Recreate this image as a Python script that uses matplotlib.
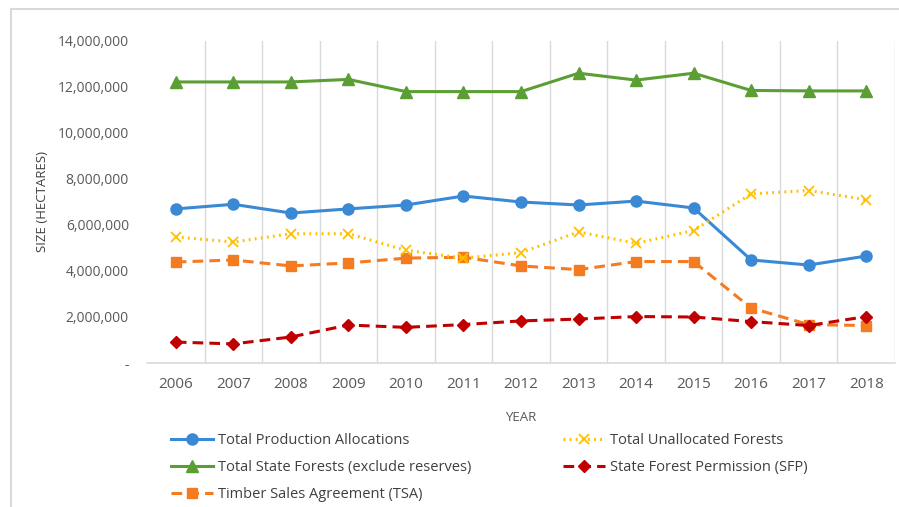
import matplotlib
matplotlib.use("Agg")
import matplotlib.pyplot as plt
from matplotlib.lines import Line2D
from matplotlib.ticker import FuncFormatter

plt.rcParams['font.family'] = ['Open Sans', 'DejaVu Sans']

years = ['2006', '2007', '2008', '2009', '2010', '2011', '2012',
         '2013', '2014', '2015', '2016', '2017', '2018']

production = [6.70, 6.90, 6.52, 6.70, 6.87, 7.26, 7.00, 6.87, 7.04, 6.74, 4.48, 4.26, 4.65]
state_forests = [12.22, 12.22, 12.22, 12.33, 11.80, 11.80, 11.80, 12.60, 12.30, 12.60, 11.85, 11.83, 11.83]
tsa = [4.39, 4.48, 4.22, 4.35, 4.56, 4.60, 4.22, 4.06, 4.41, 4.41, 2.39, 1.67, 1.63]
unallocated = [5.48, 5.26, 5.62, 5.62, 4.90, 4.56, 4.80, 5.70, 5.20, 5.76, 7.35, 7.50, 7.10]
sfp = [0.91, 0.83, 1.13, 1.65, 1.55, 1.67, 1.83, 1.91, 2.02, 2.00, 1.80, 1.63, 2.02]

fig = plt.figure(figsize=(8.99, 5.07), dpi=100)
ax = fig.add_axes([147 / 899, 1 - 363 / 507, 748 / 899, 322 / 507])

x = list(range(len(years)))
scale = 1e6
ax.plot(x, [v * scale for v in production], color='#3A89D4', lw=2.2, marker='o', ms=8,
        label='Total Production Allocations')
ax.plot(x, [v * scale for v in state_forests], color='#5B9E34', lw=2.2, marker='^', ms=8,
        label='Total State Forests (exclude reserves)')
ax.plot(x, [v * scale for v in tsa], color='#F47B20', lw=2.2, ls=(0, (3.5, 2)), marker='s', ms=7,
        label='Timber Sales Agreement (TSA)')
ax.plot(x, [v * scale for v in unallocated], color='#FFC000', lw=2.2, ls=(0, (0.6, 1.4)),
        marker='x', ms=7, mew=1.3, label='Total Unallocated Forests')
ax.plot(x, [v * scale for v in sfp], color='#C00000', lw=2.2, ls=(0, (3.5, 2)), marker='D', ms=6,
        label='State Forest Permission (SFP)')

ax.set_xlim(-0.5, len(years) - 0.5)
ax.set_ylim(0, 14e6)
ax.set_xticks(x)
ax.set_xticklabels(years)
ax.set_yticks([i * 2e6 for i in range(8)])
ax.yaxis.set_major_formatter(FuncFormatter(lambda v, p: '-' if v == 0 else f'{v:,.0f}'))

for b in [i - 0.5 for i in range(1, len(years) + 1)]:
    ax.axvline(b, color='#D9D9D9', lw=1, zorder=0)

for s in ['top', 'right', 'left']:
    ax.spines[s].set_visible(False)
ax.spines['bottom'].set_color('#D9D9D9')
ax.spines['bottom'].set_linewidth(1.2)
ax.tick_params(length=0, colors='#595959', labelsize=10)
ax.tick_params(axis='x', pad=10, labelsize=11)
ax.tick_params(axis='y', pad=13)

ax.set_xlabel('YEAR', color='#595959', fontsize=9.5, labelpad=14)
ax.set_ylabel('SIZE (HECTARES)', color='#404040', fontsize=9.5, labelpad=6)

handles, labels = ax.get_legend_handles_labels()
leg = fig.legend(handles, labels, ncol=2, loc='upper left', bbox_to_anchor=(158 / 899, 1 - 420 / 507),
                 frameon=False, fontsize=10.5, handlelength=2.9, columnspacing=6.3,
                 labelspacing=0.82, handletextpad=0.3)
for t in leg.get_texts():
    t.set_color('#404040')

# outer chart border (cropped)
fig.add_artist(Line2D([11 / 899, 1], [1 - 9 / 507, 1 - 9 / 507], color='#D9D9D9', lw=1.5))
fig.add_artist(Line2D([11 / 899, 11 / 899], [0, 1 - 9 / 507], color='#D9D9D9', lw=1.5))

fig.savefig('out.png', dpi=100)
